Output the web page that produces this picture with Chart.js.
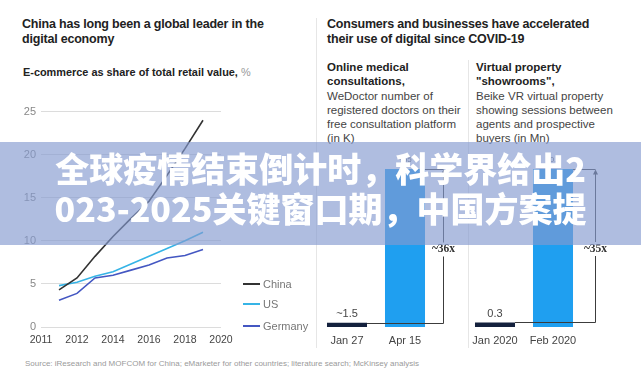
<!DOCTYPE html>
<html>
<head>
<meta charset="utf-8">
<script src="https://cdn.jsdelivr.net/npm/chart.js@4.4.1/dist/chart.umd.min.js"></script>
<style>
  body { margin: 0; width: 641px; height: 387px; position: relative; overflow: hidden; background: #fff;
         font-family: "Liberation Sans", Arial, sans-serif; color: #222; }
  .abs { position: absolute; }
  .title { font-weight: bold; font-size: 12.5px; letter-spacing: -0.2px; line-height: 15px; color: #222; white-space: nowrap; }
  .sub { font-weight: bold; font-size: 10.9px; line-height: 12px; color: #222; white-space: nowrap; }
  .panel { font-size: 11.5px; line-height: 14.3px; color: #444; white-space: nowrap; }
  .panel b { color: #222; }
  .rule { background: #e6e6e6; width: 1px; }
  #legend div { position: absolute; left: 0; font-size: 11px; color: #777; white-space: nowrap; }
  #legend i { display: inline-block; width: 17px; height: 2px; vertical-align: middle; margin-right: 3px; position: relative; top: -1px; }
  #source { left: 25px; top: 359px; font-size: 8px; color: #9a9a9a; white-space: nowrap; }
  #banner { left: 0; top: 142px; width: 641px; height: 103px; box-sizing: border-box; padding-bottom: 12px;
            background: rgba(132,154,208,0.65);
            display: flex; flex-direction: column; align-items: center; justify-content: center;
            font-family: "Noto Sans CJK SC", sans-serif; font-weight: 900; font-size: 34px; line-height: 40px;
            color: #fff; white-space: nowrap; }
</style>
</head>
<body>

<div class="abs title" style="left:22px;top:17px">China has long been a global leader in the<br>digital economy</div>
<div class="abs sub" style="left:23px;top:66px">E-commerce as share of total retail value, <span style="color:#999;font-weight:normal">%</span></div>

<div class="abs title" style="left:327px;top:17px">Consumers and businesses have accelerated<br>their use of digital since COVID-19</div>
<div class="abs panel" style="left:327px;top:60px"><b>Online medical<br>consultations,</b><br>WeDoctor number of<br>registered doctors on their<br>free consultation platform<br>(in K)</div>
<div class="abs panel" style="left:476px;top:60px"><b>Virtual property<br>"showrooms",</b><br>Beike VR virtual property<br>showing sessions between<br>agents and prospective<br>buyers (in Mn)</div>

<div class="abs rule" style="left:316px;top:18px;height:330px"></div>
<div class="abs rule" style="left:468px;top:60px;height:288px"></div>

<canvas id="ecommerce" class="abs" style="left:0;top:100px" width="316" height="250"></canvas>
<div id="legend" class="abs" style="left:243px;top:278px"></div>
<canvas id="medical" class="abs" style="left:318px;top:140px" width="150" height="210"></canvas>
<canvas id="showrooms" class="abs" style="left:462px;top:140px" width="160" height="210"></canvas>

<div id="source" class="abs">Source: iResearch and MOFCOM for China; eMarketer for other countries; literature search; McKinsey analysis</div>

<div id="banner" class="abs"><div>全球疫情结束倒计时，科学界给出2</div><div>023-2025关键窗口期，中国方案提</div></div>

<script>
// E-commerce share of total retail value, %
const years = [2011, 2012, 2013, 2014, 2015, 2016, 2017, 2018, 2019];
const chinaShare = [4.3, 5.7, 8.2, 10.5, 12.6, 14.6, 17.6, 20.7, 24.0];
const usShare = [4.8, 5.2, 5.9, 6.4, 7.3, 8.2, 9.1, 10.0, 11.0];
const germanyShare = [3.1, 3.9, 5.7, 6.0, 6.6, 7.2, 8.0, 8.3, 9.0];
const seriesNames = ["China", "US", "Germany"];
const xTickLabels = ["2011", "2012", "2014", "2016", "2018", "2020"];
const yTicks = [0, 5, 10, 15, 20, 25];

// WeDoctor registered doctors (K)
const medicalDates = ["Jan 27", "Apr 15"];
const medicalDoctors = [1.5, 55];
const medicalLabels = ["~1.5", "~55"];
const medicalRatio = "~36x";

// Beike VR showing sessions (Mn)
const showroomMonths = ["Jan 2020", "Feb 2020"];
const showroomSessions = [0.3, 10.5];
const showroomLabels = ["0.3", "10.5"];
const showroomRatio = "~35x";

const seriesColors = ["#333333", "#36b4e6", "#4457c2"];
const barColors = ["#14213d", "#1f9ff0"];

Chart.defaults.animation = false;
Chart.defaults.font.family = '"Liberation Sans", Arial, sans-serif';

const toPoints = values => values.map((v, i) => ({ x: years[i], y: v }));

new Chart(document.getElementById("ecommerce"), {
  type: "line",
  data: {
    datasets: [chinaShare, usShare, germanyShare].map((values, i) => ({
      label: seriesNames[i],
      data: toPoints(values),
      borderColor: seriesColors[i],
      borderWidth: 1.6,
      pointRadius: 0,
      tension: 0
    }))
  },
  options: {
    responsive: false,
    devicePixelRatio: 1,
    layout: { padding: { top: 10, right: 95, left: 0, bottom: 0 } },
    plugins: { legend: { display: false }, tooltip: { enabled: false } },
    scales: {
      x: {
        type: "linear",
        min: 2010,
        max: 2020,
        afterBuildTicks(scale) {
          scale.ticks = xTickLabels.map((_, i) => ({ value: 2010 + i * 2 }));
        },
        afterFit(scale) { scale.height = 23; },
        grid: { display: false, drawTicks: false },
        border: { display: false },
        ticks: {
          padding: 7,
          color: "#444",
          font: { size: 10.5 },
          maxRotation: 0,
          callback: (value, index) => xTickLabels[index]
        }
      },
      y: {
        min: 0,
        max: 25,
        afterBuildTicks(scale) { scale.ticks = yTicks.map(v => ({ value: v })); },
        afterFit(scale) { scale.width = 41; },
        grid: { color: "#dcdcdc", drawTicks: false },
        border: { display: false },
        ticks: { padding: 5, color: "#888", font: { size: 11 } }
      }
    }
  }
});

const legend = document.getElementById("legend");
seriesNames.forEach((name, i) => {
  const row = document.createElement("div");
  row.style.top = [0, 20, 42][i] + "px";
  row.innerHTML = `<i style="background:${seriesColors[i]}"></i>${name}`;
  legend.appendChild(row);
});

const bracketPlugin = {
  id: "bracket",
  afterDatasetsDraw(chart, args, opts) {
    const { ctx } = chart;
    const [a, b] = chart.getDatasetMeta(0).data;
    const bx = Math.round(b.x + b.width / 2 + opts.gap) + 0.5;
    const topY = Math.round(b.y) + 0.5;
    const lowY = Math.round(a.y) + 0.5;
    ctx.save();
    ctx.strokeStyle = "#3c3c3c";
    ctx.fillStyle = "#3c3c3c";
    ctx.lineWidth = 1;
    ctx.beginPath();
    ctx.moveTo(a.x + a.width / 2, lowY);
    ctx.lineTo(bx, lowY);
    ctx.lineTo(bx, topY + 3);
    ctx.moveTo(b.x + b.width / 2, topY);
    ctx.lineTo(bx, topY);
    ctx.stroke();
    ctx.beginPath();
    ctx.moveTo(bx - 2.5, topY + 5);
    ctx.lineTo(bx + 2.5, topY + 5);
    ctx.lineTo(bx, topY);
    ctx.closePath();
    ctx.fill();

    // ratio label breaking the vertical line
    ctx.font = 'bold 11.5px "Liberation Serif", serif';
    const midY = (topY + lowY) / 2 + 3;
    const w = ctx.measureText(opts.ratio).width;
    ctx.fillStyle = "#fff";
    ctx.fillRect(bx - w / 2 - 2, midY - 7, w + 4, 14);
    ctx.fillStyle = "#333";
    ctx.textAlign = "center";
    ctx.textBaseline = "middle";
    ctx.fillText(opts.ratio, bx, midY);

    // value labels above bars
    ctx.textBaseline = "bottom";
    ctx.fillStyle = "#444";
    ctx.font = '11px "Liberation Sans", Arial, sans-serif';
    ctx.fillText(opts.labels[0], a.x, a.y - 3);
    ctx.fillStyle = "#666";
    ctx.font = '8px "Liberation Sans", Arial, sans-serif';
    ctx.fillText(opts.labels[1], b.x, b.y - 5);
    ctx.restore();
  }
};

function barPanel(id, categories, values, labels, ratio, pad, gap) {
  new Chart(document.getElementById(id), {
    type: "bar",
    data: {
      labels: categories,
      datasets: [{ data: values, backgroundColor: barColors, barPercentage: 0.69, categoryPercentage: 1 }]
    },
    plugins: [bracketPlugin],
    options: {
      responsive: false,
      devicePixelRatio: 1,
      layout: { padding: { top: 29, left: pad[0], right: pad[1], bottom: 0 } },
      plugins: {
        legend: { display: false },
        tooltip: { enabled: false },
        bracket: { gap, ratio, labels }
      },
      scales: {
        x: {
          afterFit(scale) { scale.height = 23; },
          grid: { display: false, drawTicks: false },
          border: { display: false },
          ticks: { padding: 7, color: "#444", font: { size: 11 }, maxRotation: 0, autoSkip: false }
        },
        y: { display: false, min: 0, max: Math.max(...values) }
      }
    }
  });
}

barPanel("medical", medicalDates, medicalDoctors, medicalLabels, medicalRatio, [0, 34], 18);
barPanel("showrooms", showroomMonths, showroomSessions, showroomLabels, showroomRatio, [4, 40], 22);
</script>
</body>
</html>
